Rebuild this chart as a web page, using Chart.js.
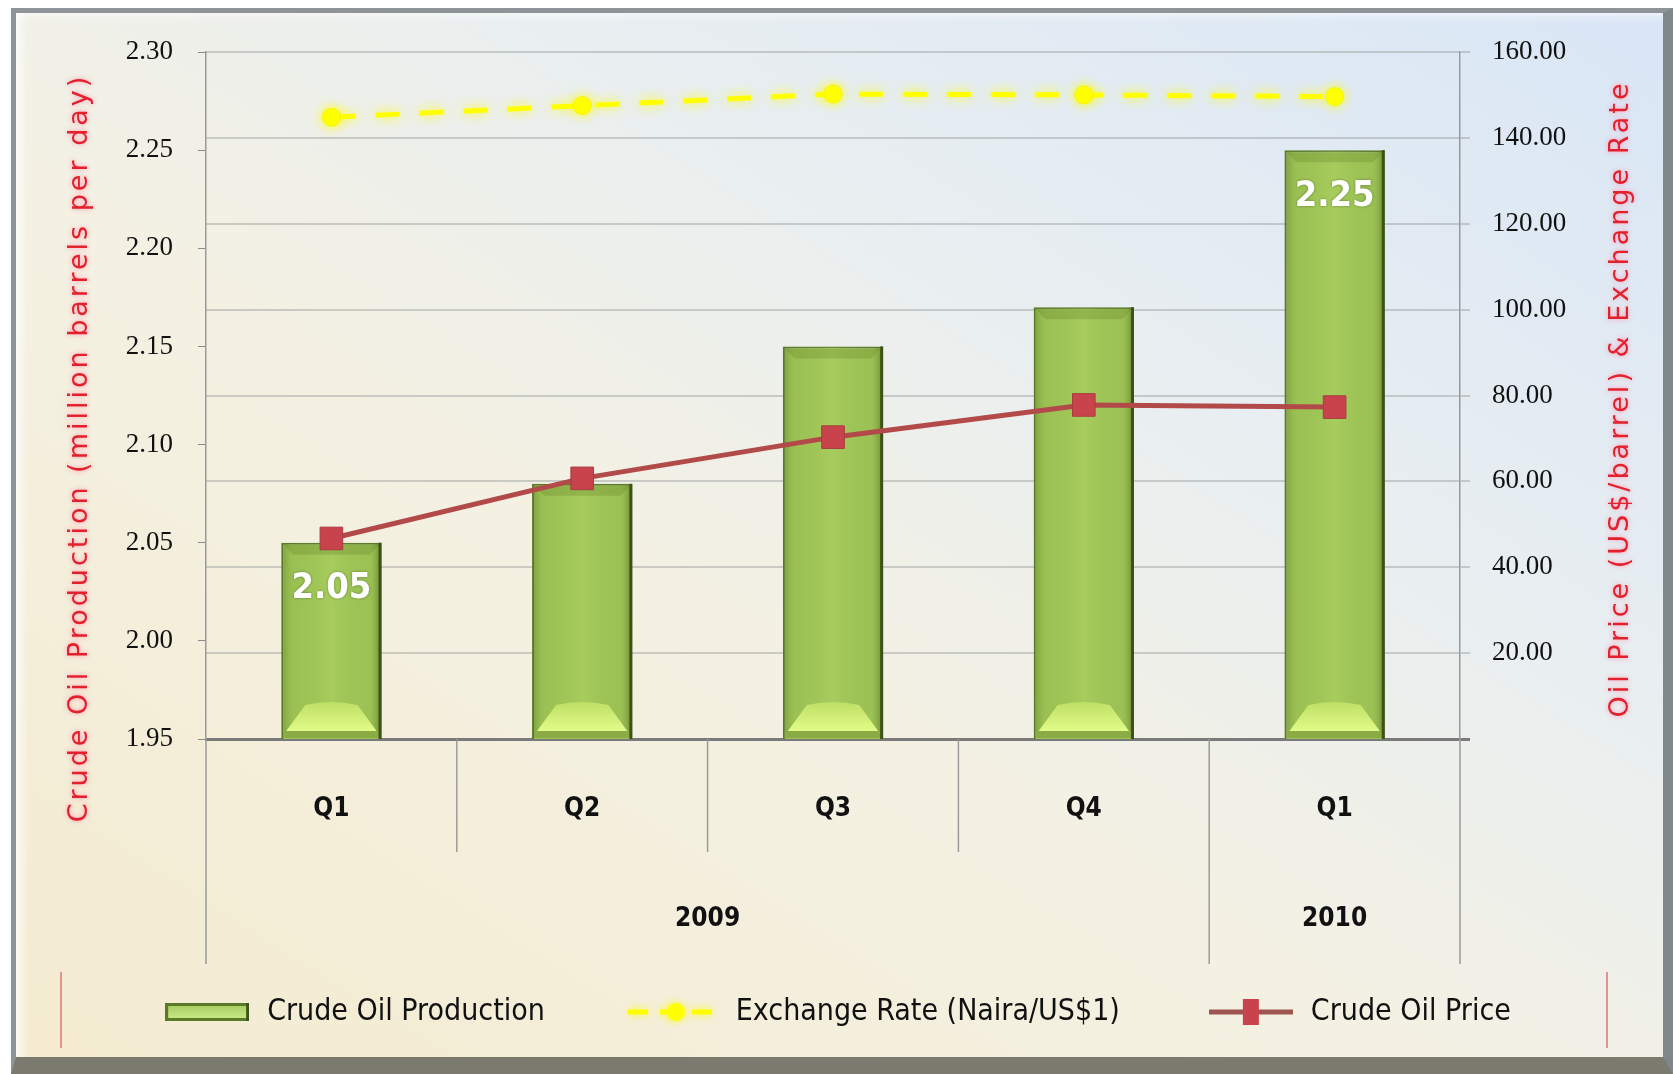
<!DOCTYPE html>
<html><head><meta charset="utf-8">
<script src="https://cdn.jsdelivr.net/npm/chart.js@4.4.1/dist/chart.umd.min.js"></script>
<style>
html,body{margin:0;padding:0;background:#fff;}
#wrap{position:relative;width:1673px;height:1074px;overflow:hidden;}
#frame{position:absolute;left:11px;top:8px;width:1662px;height:1066px;box-sizing:border-box;
  border-top:5px solid #8e9497;border-left:5px solid #8e9497;border-right:10px solid #80878a;border-bottom:17px solid #7b7a6f;
  background:linear-gradient(to top right,#f4ebd0 0%,#f4f1e3 42%,#e8eef1 68%,#d9e6f6 100%);
  box-shadow:inset 14px 10px 10px -8px rgba(255,255,255,0.75);}
canvas{position:absolute;left:0;top:0;}
</style></head>
<body><div id="wrap"><div id="frame"></div><canvas id="c" width="1673" height="1074"></canvas></div>
<script>
// ---- data ----
const quarters = ['Q1', 'Q2', 'Q3', 'Q4', 'Q1'];
const years = ['2009', '2010'];
const yearSpans = [4, 1];
const production = [2.05, 2.08, 2.15, 2.17, 2.25];
const exchangeRate = [144.8, 147.5, 150.2, 150.0, 149.6];
const oilPrice = [46.7, 60.7, 70.3, 77.8, 77.3];
const showBarLabel = [true, false, false, false, true];
const leftTitle = 'Crude Oil Production (million barrels per day)';
const rightTitle = 'Oil Price (US$/barrel) & Exchange Rate';
const seriesNames = ['Crude Oil Production', 'Exchange Rate (Naira/US$1)', 'Crude Oil Price'];

const NARROW = '"Liberation Sans Narrow","DejaVu Sans Condensed","Liberation Sans",sans-serif';
const SERIF = '"Liberation Serif","DejaVu Serif",serif';

// ---- legend icons ----
function icon(w, h, draw) { const c = document.createElement('canvas'); c.width = w; c.height = h; draw(c.getContext('2d'), w, h); return c; }
const barIcon = icon(84, 22, (g, w, h) => {
  g.fillStyle = '#5a7a2a'; g.fillRect(0, 2, w, h - 4);
  const gr = g.createLinearGradient(0, 4, 0, h - 4); gr.addColorStop(0, '#a9cc62'); gr.addColorStop(1, '#c9e985');
  g.fillStyle = gr; g.fillRect(3, 5, w - 6, h - 10);
  g.fillStyle = '#3d5219'; g.fillRect(w - 3, 2, 3, h - 4);
});
const exIcon = icon(100, 30, (g, w, h) => {
  g.shadowColor = 'rgba(255,255,0,0.9)'; g.shadowBlur = 8;
  g.strokeStyle = '#ffff00'; g.lineWidth = 5; g.setLineDash([20, 12]);
  g.beginPath(); g.moveTo(2, h / 2); g.lineTo(w - 2, h / 2); g.stroke();
  g.fillStyle = '#ffff00'; g.beginPath(); g.arc(w / 2, h / 2, 9, 0, Math.PI * 2); g.fill();
});
const prIcon = icon(84, 30, (g, w, h) => {
  g.strokeStyle = '#9e5552'; g.lineWidth = 5;
  g.beginPath(); g.moveTo(0, h / 2); g.lineTo(w, h / 2); g.stroke();
  g.fillStyle = '#c8434c'; g.fillRect(w / 2 - 8, 2, 16, h - 4);
});
const legendIcons = [barIcon, exIcon, prIcon];

// ---- plugins ----
const barBevel = {
  id: 'barBevel',
  afterDatasetDraw(chart, args) {
    if (args.meta.type !== 'bar') return;
    const ctx = chart.ctx, area = chart.chartArea;
    args.meta.data.forEach((el, i) => {
      const l = el.x - el.width / 2, r = el.x + el.width / 2, t = el.y, b = Math.min(el.base, area.bottom), w = r - l;
      ctx.save();
      const gh = ctx.createLinearGradient(l, 0, r, 0);
      gh.addColorStop(0, 'rgba(80,110,30,0.45)'); gh.addColorStop(0.12, 'rgba(140,180,70,0.12)');
      gh.addColorStop(0.5, 'rgba(200,235,120,0.25)'); gh.addColorStop(0.88, 'rgba(140,180,70,0.08)');
      gh.addColorStop(1, 'rgba(50,70,15,0.5)');
      ctx.fillStyle = gh; ctx.fillRect(l + 1, t + 1, w - 2, b - t - 2);
      ctx.fillStyle = 'rgba(110,140,45,0.35)';
      ctx.beginPath(); ctx.moveTo(l + 2, t + 2); ctx.lineTo(r - 2, t + 2); ctx.lineTo(r - 12, t + 12); ctx.lineTo(l + 12, t + 12); ctx.closePath(); ctx.fill();
      ctx.fillStyle = '#8bab45'; ctx.fillRect(l + 2, b - 8, w - 4, 7);
      const gv = ctx.createLinearGradient(0, b - 36, 0, b - 8);
      gv.addColorStop(0, '#bfe066'); gv.addColorStop(1, '#e2fb88');
      ctx.fillStyle = gv;
      ctx.beginPath(); ctx.moveTo(l + 24, b - 34); ctx.quadraticCurveTo(el.x, b - 40, r - 24, b - 34); ctx.lineTo(r - 5, b - 8); ctx.lineTo(l + 5, b - 8); ctx.closePath(); ctx.fill();
      ctx.fillStyle = '#3d5219'; ctx.fillRect(r - 3, t, 3, b - t);
      if (showBarLabel[i]) {
        ctx.fillStyle = '#ffffff'; ctx.font = 'bold 36px ' + NARROW;
        ctx.textAlign = 'center'; ctx.textBaseline = 'middle';
        ctx.shadowColor = 'rgba(60,90,20,0.6)'; ctx.shadowBlur = 3;
        ctx.fillText(production[i].toFixed(2), el.x, t + 46);
      }
      ctx.restore();
    });
  }
};
const glow = {
  id: 'glow',
  beforeDatasetDraw(chart, args) {
    if (args.index === 1) { chart.ctx.save(); chart.ctx.shadowColor = 'rgba(255,255,0,0.95)'; chart.ctx.shadowBlur = 12; }
  },
  afterDatasetDraw(chart, args) { if (args.index === 1) chart.ctx.restore(); }
};
const decor = {
  id: 'decor',
  afterDraw(chart) {
    const ctx = chart.ctx, xs = chart.scales.x;
    const n = quarters.length;
    const centers = quarters.map((_, i) => xs.getPixelForValue(i));
    const bounds = [];
    for (let k = 0; k <= n; k++) bounds.push(k === 0 ? xs.left : k === n ? xs.right : (centers[k - 1] + centers[k]) / 2);
    const groupEnds = [0]; yearSpans.forEach(s => groupEnds.push(groupEnds[groupEnds.length - 1] + s));
    const base = xs.top;
    ctx.save();
    ctx.strokeStyle = '#9a9a9a'; ctx.lineWidth = 1.5;
    bounds.forEach((bx, k) => {
      const long = groupEnds.includes(k);
      ctx.beginPath(); ctx.moveTo(bx, base); ctx.lineTo(bx, base + (long ? 225 : 113)); ctx.stroke();
    });
    ctx.fillStyle = '#111'; ctx.font = 'bold 26px ' + NARROW; ctx.textAlign = 'center'; ctx.textBaseline = 'middle';
    years.forEach((y, j) => {
      const cx = (bounds[groupEnds[j]] + bounds[groupEnds[j + 1]]) / 2;
      ctx.fillText(y, cx, base + 180);
    });
    // axis titles
    ctx.fillStyle = '#e3202b'; ctx.font = '27px "DejaVu Sans",sans-serif';
    ctx.shadowColor = 'rgba(255,140,170,0.9)'; ctx.shadowBlur = 5;
    try { ctx.letterSpacing = '3px'; } catch (e) {}
    ctx.save(); ctx.translate(80, 448); ctx.rotate(-Math.PI / 2); ctx.fillText(leftTitle, 0, 0); ctx.restore();
    ctx.save(); ctx.translate(1621, 399); ctx.rotate(-Math.PI / 2); ctx.fillText(rightTitle, 0, 0); ctx.restore();
    try { ctx.letterSpacing = '0px'; } catch (e) {}
    ctx.shadowBlur = 0;
    // legend side rules
    ctx.strokeStyle = '#e07575'; ctx.lineWidth = 1.5;
    [61, 1607].forEach(x => { ctx.beginPath(); ctx.moveTo(x, 972); ctx.lineTo(x, 1048); ctx.stroke(); });
    ctx.restore();
  }
};

new Chart(document.getElementById('c'), {
  data: {
    labels: quarters,
    datasets: [
      { type: 'bar', label: seriesNames[0], data: production, yAxisID: 'y', order: 2,
        backgroundColor: '#9dc255', borderColor: '#5a7a2a', borderWidth: 2, borderSkipped: false,
        barPercentage: 0.4, categoryPercentage: 1.0 },
      { type: 'line', label: seriesNames[1], data: exchangeRate, yAxisID: 'y1', order: 0,
        borderColor: '#ffff00', borderWidth: 5, borderDash: [24, 20], tension: 0,
        pointStyle: 'circle', pointRadius: 9, pointBackgroundColor: '#ffff00', pointBorderColor: '#f4f400', pointBorderWidth: 1 },
      { type: 'line', label: seriesNames[2], data: oilPrice, yAxisID: 'y1', order: 1,
        borderColor: '#b34a4a', borderWidth: 5, tension: 0,
        pointStyle: 'rect', pointRadius: 16, pointBackgroundColor: '#c8434c', pointBorderColor: '#a83c40', pointBorderWidth: 1 }
    ]
  },
  options: {
    responsive: false, animation: false,
    layout: { padding: { left: 20, right: 20, top: 52, bottom: 37 } },
    plugins: {
      tooltip: { enabled: false },
      legend: {
        position: 'bottom',
        labels: {
          usePointStyle: true, pointStyleWidth: 90, padding: 86,
          font: { family: NARROW, size: 30 }, color: '#111',
          generateLabels: (chart) => chart.data.datasets.map((d, i) => ({
            text: d.label, pointStyle: legendIcons[i], datasetIndex: i, hidden: false,
            fillStyle: 'transparent', strokeStyle: 'transparent', lineWidth: 0, fontColor: '#111'
          }))
        }
      }
    },
    scales: {
      x: {
        grid: { display: false, drawTicks: false },
        border: { display: true, color: '#7a7a7a', width: 3 },
        ticks: { font: { family: NARROW, size: 26, weight: 'bold' }, color: '#111', padding: 55 },
        afterFit: s => { s.height = 172; }
      },
      y: {
        position: 'left', min: 1.95, max: 2.30,
        grid: { drawOnChartArea: false, tickLength: 8, color: '#8a8a8a' },
        border: { display: true, color: '#9a9a9a', width: 1.5 },
        ticks: { stepSize: 0.05, padding: 25, color: '#111', font: { family: SERIF, size: 27 }, callback: v => Number(v).toFixed(2) },
        afterFit: s => { s.width = 186; }
      },
      y1: {
        position: 'right', min: 0, max: 160,
        grid: { drawOnChartArea: true, tickLength: 10,
          color: c => (c.tick && c.tick.value === 0) ? '#7a7a7a' : 'rgba(150,155,155,0.45)',
          lineWidth: c => (c.tick && c.tick.value === 0) ? 3 : 2 },
        border: { display: true, color: '#9a9a9a', width: 1.5 },
        ticks: { stepSize: 20, padding: 22, color: '#111', font: { family: SERIF, size: 27 }, callback: v => v === 0 ? '' : Number(v).toFixed(2) },
        afterFit: s => { s.width = 193; }
      }
    }
  },
  plugins: [barBevel, glow, decor]
});
</script>
</body></html>
